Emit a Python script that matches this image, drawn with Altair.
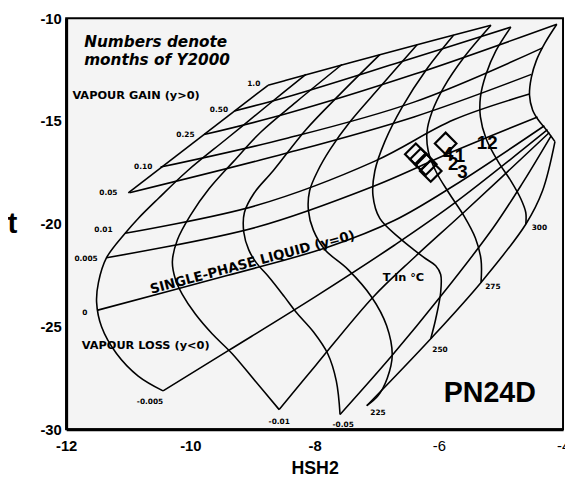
import altair as alt
import pandas as pd

# ---------------- lines of constant vapour fraction y (HSH2, t) ----------------
vap_1_0_x = [-8.75, -8.46, -6.71, -5.16]
vap_1_0_t = [-13.26, -13.02, -11.58, -10.34]
vap_0_5_x = [-9.29, -8.46, -6.71, -4.84]
vap_0_5_t = [-14.51, -13.84, -12.21, -10.43]
vap_0_25_x = [-9.78, -8.46, -6.40, -4.10]
vap_0_25_t = [-15.66, -14.65, -12.73, -10.29]
vap_0_10_x = [-10.48, -8.46, -6.40, -4.33]
vap_0_10_t = [-17.24, -15.85, -14.08, -11.44]
vap_0_05_x = [-10.98, -8.46, -6.40, -4.51]
vap_0_05_t = [-18.49, -16.57, -14.80, -12.73]
vap_0_01_x = [-11.05, -8.94, -7.03, -5.76, -4.54]
vap_0_01_t = [-20.46, -19.11, -16.95, -14.94, -13.69]
vap_0_005_x = [-11.35, -8.94, -7.03, -5.76, -4.41]
vap_0_005_t = [-21.65, -20.17, -18.15, -16.47, -14.80]
vap_0_x = [-11.49, -9.41, -7.78, -6.71, -5.76, -4.30]
vap_0_t = [-24.20, -22.52, -21.13, -19.83, -18.15, -15.23]
vap_m0_005_x = [-10.44, -9.41, -7.98, -6.71, -5.76, -4.25]
vap_m0_005_t = [-28.13, -26.21, -23.53, -21.03, -19.02, -15.42]
vap_m0_01_x = [-8.57, -7.98, -7.06, -6.40, -5.60, -4.22]
vap_m0_01_t = [-29.04, -26.88, -23.57, -21.65, -19.45, -15.56]
vap_m0_05_x = [-7.59, -6.75, -5.97, -5.13, -4.65, -4.19]
vap_m0_05_t = [-29.28, -26.40, -23.53, -20.22, -18.01, -15.71]
vap_min_x = [-7.16, -6.13, -5.32, -4.60, -4.33, -4.13]
vap_min_t = [-28.85, -25.59, -22.85, -20.02, -18.39, -16.00]

# ---------------- lines of constant temperature T ----------------
temp_125_x = [-8.75, -11.00]
temp_125_t = [-13.26, -18.49]
temp_150_x = [-8.14, -8.75, -9.41, -10.05, -10.52, -10.84, -11.05, -11.35, -11.48, -11.51, -11.43, -11.19, -10.84, -10.44]
temp_150_t = [-12.73, -14.22, -15.85, -17.43, -18.78, -19.74, -20.46, -21.65, -22.85, -23.81, -25.01, -26.31, -27.41, -28.13]
temp_175_x = [-7.56, -8.30, -8.86, -9.30, -9.70, -10.00, -10.21, -10.29, -10.24, -10.13, -9.92, -9.65, -9.33, -8.97, -8.57]
temp_175_t = [-12.25, -14.08, -15.52, -16.95, -18.30, -19.59, -20.79, -21.85, -22.71, -23.43, -24.39, -25.35, -26.31, -27.60, -29.04]
temp_200_x = [-6.95, -7.59, -8.14, -8.67, -8.97, -9.13, -9.14, -9.06, -8.94, -8.73, -8.49, -8.30, -8.02, -7.79, -7.65, -7.59]
temp_200_t = [-11.77, -13.69, -15.42, -17.43, -18.49, -19.45, -20.41, -21.27, -21.89, -22.61, -23.53, -24.29, -25.25, -26.31, -27.65, -29.28]
temp_225_x = [-6.35, -6.95, -7.43, -7.75, -7.95, -8.08, -8.10, -8.02, -7.83, -7.46, -7.08, -6.84, -6.75, -6.83, -6.98, -7.16]
temp_225_t = [-11.29, -13.36, -15.04, -16.38, -17.43, -18.39, -19.35, -20.31, -21.27, -22.23, -23.57, -24.96, -26.40, -27.51, -28.37, -28.85]
temp_250_x = [-5.76, -6.21, -6.59, -6.87, -7.03, -7.06, -6.95, -6.63, -6.40, -6.21, -6.05, -5.97, -5.97, -6.05, -6.13]
temp_250_t = [-10.82, -12.54, -14.32, -16.00, -17.43, -18.63, -19.74, -20.70, -21.27, -21.70, -22.04, -22.47, -23.33, -24.63, -25.59]
temp_275_x = [-5.16, -5.60, -5.92, -6.11, -6.19, -6.17, -6.05, -5.84, -5.60, -5.41, -5.32, -5.32]
temp_275_t = [-10.34, -11.92, -13.36, -14.56, -15.52, -16.47, -17.43, -18.49, -19.59, -20.70, -21.75, -22.85]
temp_300_x = [-4.84, -5.08, -5.24, -5.33, -5.33, -5.24, -5.05, -4.84, -4.68, -4.60, -4.60]
temp_300_t = [-10.43, -11.58, -12.73, -13.84, -14.80, -15.85, -16.95, -17.91, -18.78, -19.45, -20.02]
temp_325_x = [-4.10, -4.29, -4.43, -4.51, -4.54, -4.49, -4.40, -4.27, -4.13]
temp_325_t = [-10.29, -11.20, -12.06, -12.88, -13.74, -14.46, -14.94, -15.42, -16.00]

# ---------------- monthly samples (Y2000) ----------------
month_names = ["12", "4", "1", "2", "3"]
month_hsh2 = [-5.89, -6.37, -6.29, -6.21, -6.13]
month_t = [-16.09, -16.62, -16.86, -17.10, -17.43]
month_label_hsh2 = [-5.22, -5.85, -5.66, -5.77, -5.62]
month_label_t = [-16.09, -16.62, -16.71, -17.10, -17.50]

# ---------------- grid labels ----------------
grid_label_text = ["1.0", "0.50", "0.25", "0.10", "0.05", "0.01", "0.005", "0",
                   "-0.005", "-0.01", "-0.05", "225", "250", "275", "300"]
grid_label_hsh2 = [-8.98, -9.54, -10.08, -10.76, -11.32, -11.40, -11.68, -11.70,
                   -10.65, -8.57, -7.54, -6.98, -5.98, -5.13, -4.38]
grid_label_t = [-13.21, -14.46, -15.66, -17.24, -18.49, -20.31, -21.70, -24.34,
                -28.66, -29.62, -29.81, -29.23, -26.16, -23.09, -20.22]

series = [
    ("y=1.0", vap_1_0_x, vap_1_0_t), ("y=0.5", vap_0_5_x, vap_0_5_t),
    ("y=0.25", vap_0_25_x, vap_0_25_t), ("y=0.10", vap_0_10_x, vap_0_10_t),
    ("y=0.05", vap_0_05_x, vap_0_05_t), ("y=0.01", vap_0_01_x, vap_0_01_t),
    ("y=0.005", vap_0_005_x, vap_0_005_t), ("y=0", vap_0_x, vap_0_t),
    ("y=-0.005", vap_m0_005_x, vap_m0_005_t), ("y=-0.01", vap_m0_01_x, vap_m0_01_t),
    ("y=-0.05", vap_m0_05_x, vap_m0_05_t), ("y=min", vap_min_x, vap_min_t),
    ("T=125", temp_125_x, temp_125_t), ("T=150", temp_150_x, temp_150_t),
    ("T=175", temp_175_x, temp_175_t), ("T=200", temp_200_x, temp_200_t),
    ("T=225", temp_225_x, temp_225_t), ("T=250", temp_250_x, temp_250_t),
    ("T=275", temp_275_x, temp_275_t), ("T=300", temp_300_x, temp_300_t),
    ("T=325", temp_325_x, temp_325_t),
]
rows = []
for name, xs, ts in series:
    for i, (a, b) in enumerate(zip(xs, ts)):
        rows.append({"line": name, "i": i, "hsh2": a, "t": b})
lines_df = pd.DataFrame(rows)

months_df = pd.DataFrame({"hsh2": month_hsh2, "t": month_t, "label": month_names})
month_lab_df = pd.DataFrame({"hsh2": month_label_hsh2, "t": month_label_t, "label": month_names})
grid_lab_df = pd.DataFrame({"hsh2": grid_label_hsh2, "t": grid_label_t, "label": grid_label_text})

x_scale = alt.Scale(domain=[-12, -4], nice=False, zero=False)
y_scale = alt.Scale(domain=[-30, -10], nice=False, zero=False)

x_axis = alt.Axis(
    values=[-12, -10, -8, -6, -4], labelExpr="'-' + abs(datum.value)",
    labelFont="Liberation Sans", labelFontSize=15,
    labelFontWeight={"condition": {"test": "datum.value <= -8", "value": "bold"}, "value": "normal"},
    labelColor="black", labelPadding=9, labelFlush=False, labelOverlap=False,
    ticks=False, grid=False, domainColor="black", domainWidth=3,
    title="HSH2", titleFont="Liberation Sans", titleFontSize=18, titleFontWeight="bold",
    titleColor="black", titleX=252, titleY=40, titleAlign="center", titleBaseline="middle",
)
y_axis = alt.Axis(
    values=[-10, -15, -20, -25, -30], labelExpr="'-' + abs(datum.value)",
    labelFont="Liberation Sans", labelFontSize=15, labelFontWeight="bold",
    labelColor="black", labelPadding=5, labelFlush=False, labelOverlap=False,
    ticks=False, grid=False, domainColor="black", domainWidth=3,
    title="t", titleFont="Liberation Sans", titleFontSize=30, titleFontWeight="bold",
    titleColor="black", titleAngle=0, titleX=-55, titleY=208,
    titleAlign="center", titleBaseline="middle",
)


def X():
    return alt.X("hsh2:Q", scale=x_scale, axis=x_axis)


def Y():
    return alt.Y("t:Q", scale=y_scale, axis=y_axis)


grid = alt.Chart(lines_df).mark_line(
    color="black", strokeWidth=1.6, interpolate="catmull-rom"
).encode(x=X(), y=Y(), detail="line:N", order="i:Q")

diamonds = alt.Chart(months_df).mark_point(
    shape="diamond", filled=False, color="black", strokeWidth=2.2, size=480, opacity=1
).encode(x=X(), y=Y())

month_text = alt.Chart(month_lab_df).mark_text(
    font="Liberation Sans", fontSize=19, fontWeight="bold", color="black",
    align="center", baseline="middle"
).encode(x=X(), y=Y(), text="label:N")

grid_text = alt.Chart(grid_lab_df).mark_text(
    font="DejaVu Sans", fontSize=7.5, fontWeight="bold", color="black",
    align="center", baseline="middle"
).encode(x=X(), y=Y(), text="label:N")


def note(txt, hx, ty, **kw):
    d = pd.DataFrame({"hsh2": [hx], "t": [ty], "label": [txt]})
    return alt.Chart(d).mark_text(color="black", baseline="middle", **kw).encode(
        x=X(), y=Y(), text="label:N")


notes = [
    note("Numbers denote", -11.71, -11.15, align="left", font="DejaVu Sans",
         fontSize=15.5, fontWeight="bold", fontStyle="italic"),
    note("months of Y2000", -11.71, -12.02, align="left", font="DejaVu Sans",
         fontSize=15.5, fontWeight="bold", fontStyle="italic"),
    note("VAPOUR GAIN (y>0)", -11.90, -13.79, align="left", font="DejaVu Sans",
         fontSize=11.5, fontWeight="bold"),
    note("VAPOUR LOSS (y<0)", -11.75, -25.97, align="left", font="DejaVu Sans",
         fontSize=11.5, fontWeight="bold"),
    note("SINGLE-PHASE LIQUID (y=0)", -9.00, -21.89, align="center", font="DejaVu Sans",
         fontSize=13.5, fontWeight="bold", angle=345),
    note("T in \u00b0C", -6.57, -22.66, align="center", font="DejaVu Sans",
         fontSize=11.5, fontWeight="bold"),
    note("PN24D", -5.18, -28.23, align="center", font="Liberation Sans",
         fontSize=29, fontWeight="bold"),
]

chart = alt.layer(grid, diamonds, month_text, grid_text, *notes).properties(
    width=504, height=417, autosize="none",
    padding={"left": 59, "top": 7, "right": 2, "bottom": 50},
).configure_view(fill="#f4f4f4", stroke="black", strokeWidth=2)

chart.save("out.html", embed_options={"renderer": "svg", "actions": False})
